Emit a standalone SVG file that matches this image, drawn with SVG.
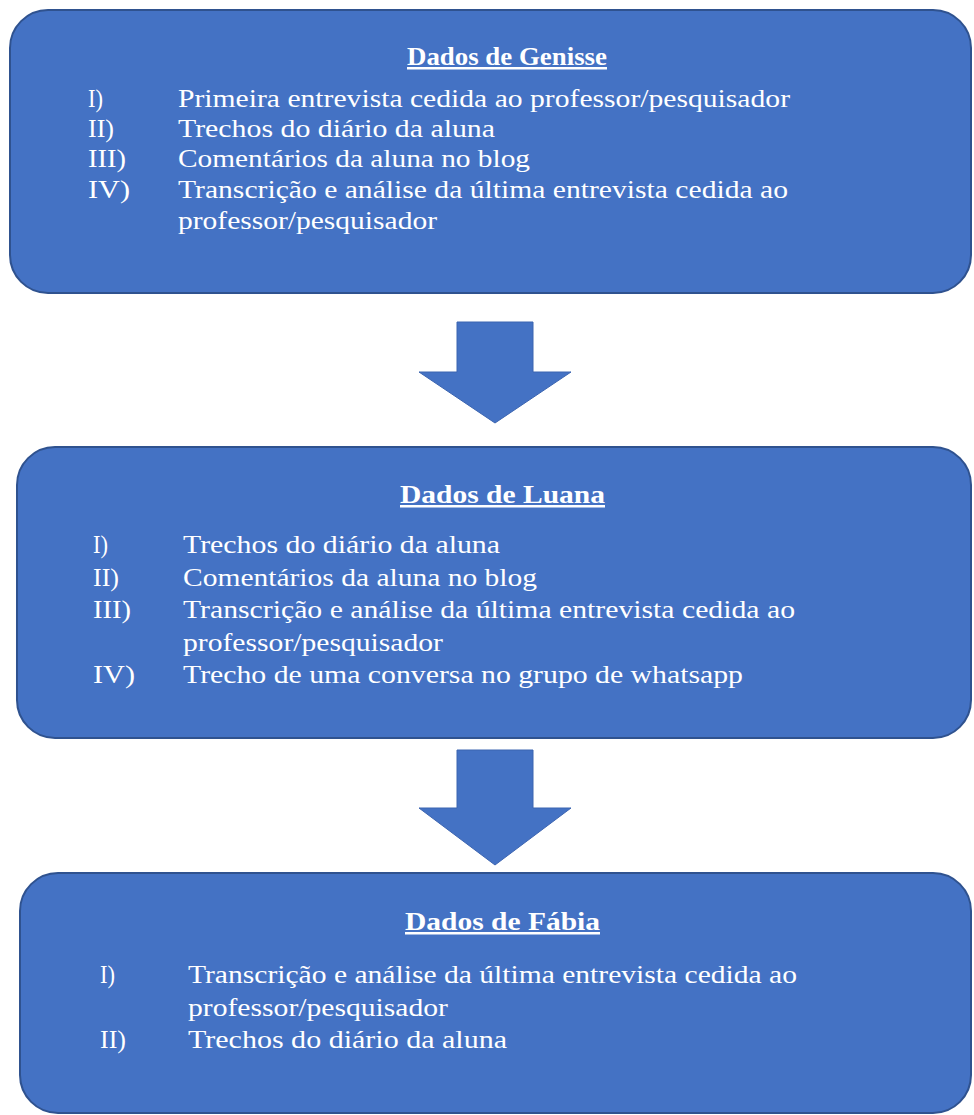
<svg xmlns="http://www.w3.org/2000/svg" width="974" height="1115" viewBox="0 0 974 1115">
  <style>
    .box { fill: #4472C4; stroke: #2F528F; stroke-width: 2; }
    .arrow { fill: #4472C4; stroke: #3B64B0; stroke-width: 1; }
    text { font-family: 'Liberation Serif', 'DejaVu Serif', 'Times New Roman', serif; fill: #FFFFFF; }
    .title { font-size: 25px; font-weight: bold; text-decoration: underline; }
    .item { font-size: 25px; }
  </style>
  <rect width="974" height="1115" fill="#FFFFFF"/>

  <g id="genisse" font-family="Liberation Serif">
    <rect class="box" x="10" y="10" width="961" height="283" rx="38" ry="38"/>
    <text class="title" x="407" y="65" textLength="200" lengthAdjust="spacingAndGlyphs">Dados de Genisse</text>
    <text class="item" x="88" y="107" textLength="15" lengthAdjust="spacingAndGlyphs">I)</text>
    <text class="item" x="178" y="107" textLength="612" lengthAdjust="spacingAndGlyphs">Primeira entrevista cedida ao professor/pesquisador</text>
    <text class="item" x="88" y="137" textLength="26" lengthAdjust="spacingAndGlyphs">II)</text>
    <text class="item" x="178" y="137" textLength="317" lengthAdjust="spacingAndGlyphs">Trechos do diário da aluna</text>
    <text class="item" x="88" y="167" textLength="38" lengthAdjust="spacingAndGlyphs">III)</text>
    <text class="item" x="178" y="167" textLength="352" lengthAdjust="spacingAndGlyphs">Comentários da aluna no blog</text>
    <text class="item" x="88" y="198" textLength="42" lengthAdjust="spacingAndGlyphs">IV)</text>
    <text class="item" x="178" y="198" textLength="610" lengthAdjust="spacingAndGlyphs">Transcrição e análise da última entrevista cedida ao</text>
    <text class="item" x="178" y="229" textLength="259" lengthAdjust="spacingAndGlyphs">professor/pesquisador</text>
  </g>

  <g id="luana" font-family="Liberation Serif">
    <rect class="box" x="17" y="447" width="954" height="291" rx="38" ry="38"/>
    <text class="title" x="400" y="503" textLength="205" lengthAdjust="spacingAndGlyphs">Dados de Luana</text>
    <text class="item" x="93" y="553" textLength="15" lengthAdjust="spacingAndGlyphs">I)</text>
    <text class="item" x="183" y="553" textLength="317" lengthAdjust="spacingAndGlyphs">Trechos do diário da aluna</text>
    <text class="item" x="93" y="586" textLength="26" lengthAdjust="spacingAndGlyphs">II)</text>
    <text class="item" x="183" y="586" textLength="354" lengthAdjust="spacingAndGlyphs">Comentários da aluna no blog</text>
    <text class="item" x="93" y="618" textLength="38" lengthAdjust="spacingAndGlyphs">III)</text>
    <text class="item" x="183" y="618" textLength="612" lengthAdjust="spacingAndGlyphs">Transcrição e análise da última entrevista cedida ao</text>
    <text class="item" x="183" y="651" textLength="260" lengthAdjust="spacingAndGlyphs">professor/pesquisador</text>
    <text class="item" x="93" y="683" textLength="42" lengthAdjust="spacingAndGlyphs">IV)</text>
    <text class="item" x="183" y="683" textLength="560" lengthAdjust="spacingAndGlyphs">Trecho de uma conversa no grupo de whatsapp</text>
  </g>

  <g id="fabia" font-family="Liberation Serif">
    <rect class="box" x="20" y="873" width="951" height="240" rx="38" ry="38"/>
    <text class="title" x="405" y="930" textLength="195" lengthAdjust="spacingAndGlyphs">Dados de Fábia</text>
    <text class="item" x="100" y="983" textLength="15" lengthAdjust="spacingAndGlyphs">I)</text>
    <text class="item" x="188" y="983" textLength="609" lengthAdjust="spacingAndGlyphs">Transcrição e análise da última entrevista cedida ao</text>
    <text class="item" x="188" y="1016" textLength="260" lengthAdjust="spacingAndGlyphs">professor/pesquisador</text>
    <text class="item" x="100" y="1048" textLength="26" lengthAdjust="spacingAndGlyphs">II)</text>
    <text class="item" x="188" y="1048" textLength="319" lengthAdjust="spacingAndGlyphs">Trechos do diário da aluna</text>
  </g>

  <g id="connectors">
    <polygon class="arrow" points="457,322 533,322 533,372 571,372 495,423 419,372 457,372"/>
    <polygon class="arrow" points="457,750 533,750 533,808 571,808 495,865 419,808 457,808"/>
  </g>
</svg>
